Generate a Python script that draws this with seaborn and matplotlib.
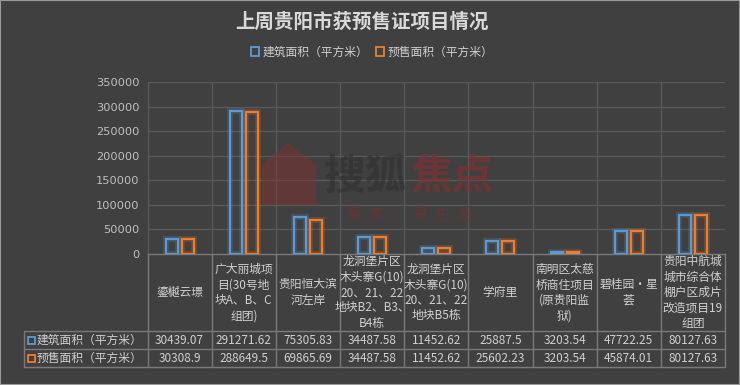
import matplotlib
matplotlib.use("Agg")
import matplotlib.pyplot as plt
import matplotlib.patheffects as pe
from matplotlib.patches import Rectangle, Polygon, Patch
from matplotlib.transforms import blended_transform_factory
import seaborn as sns
import pandas as pd

# ---------------- data ----------------
categories = [
    "鎏樾云璟",
    "广大丽城项\n目(30号地\n块A、B、C\n组团)",
    "贵阳恒大滨\n河左岸",
    "龙洞堡片区\n木头寨G(10)\n20、21、22\n地块B2、B3、\nB4栋",
    "龙洞堡片区\n木头寨G(10)\n20、21、22\n地块B5栋",
    "学府里",
    "南明区太慈\n桥商住项目\n(原贵阳监\n狱)",
    "碧桂园·星\n荟",
    "贵阳中航城\n城市综合体\n棚户区成片\n改造项目19\n组团",
]
build_area = [30439.07, 291271.62, 75305.83, 34487.58, 11452.62, 25887.5, 3203.54, 47722.25, 80127.63]
presale_area = [30308.9, 288649.5, 69865.69, 34487.58, 11452.62, 25602.23, 3203.54, 45874.01, 80127.63]
build_text = ["30439.07", "291271.62", "75305.83", "34487.58", "11452.62", "25887.5", "3203.54", "47722.25", "80127.63"]
presale_text = ["30308.9", "288649.5", "69865.69", "34487.58", "11452.62", "25602.23", "3203.54", "45874.01", "80127.63"]
series_names = ["建筑面积（平方米）", "预售面积（平方米）"]
yticks = [0, 50000, 100000, 150000, 200000, 250000, 300000, 350000]
title = "上周贵阳市获预售证项目情况"

# ---------------- style ----------------
BG = "#404040"
GRID = "#595959"
TABLE_LINE = "#7a7a7a"
TXT = "#d0d0d0"
BLUE = "#5B9BD5"
ORANGE = "#ED7D31"

sns.set_theme(style="dark")
plt.rcParams['font.family'] = ['Noto Sans CJK SC', 'DejaVu Sans']

W, H = 740, 385
fig = plt.figure(figsize=(W / 100, H / 100), dpi=100, facecolor=BG)


def fx(x):
    return x / W


def fy(y):
    return 1 - y / H


L, R, T, B = 147.5, 725, 82, 254
ax = fig.add_axes([fx(L), fy(B), fx(R) - fx(L), fy(T) - fy(B)])
ax.set_facecolor("none")

# watermark (behind bars)
house = Polygon([[fx(262), fy(165)], [fx(288), fy(143)], [fx(316), fy(165)],
                 [fx(316), fy(205)], [fx(262), fy(205)]],
                closed=True, transform=fig.transFigure, facecolor="#8a3030",
                alpha=0.45, edgecolor="none", zorder=0)
fig.patches.append(house)
fig.text(fx(324), fy(177), "搜狐", fontsize=30, color="#2e2e2e", alpha=0.55,
         ha="left", va="center", fontweight="bold", zorder=0)
fig.text(fx(410), fy(177), "焦点", fontsize=30, color="#8a2e2e", alpha=0.6,
         ha="left", va="center", fontweight="bold", zorder=0)
fig.text(fx(410), fy(214), "爱  家  ，  爱  生  活", fontsize=11, color="#7a2e2e",
         alpha=0.7, ha="center", va="center", zorder=0)

df = pd.DataFrame({
    "cat": categories * 2,
    "series": [series_names[0]] * len(categories) + [series_names[1]] * len(categories),
    "value": build_area + presale_area,
})
sns.barplot(data=df, x="cat", y="value", hue="series", palette=[BLUE, ORANGE],
            fill=False, width=0.5, gap=0.25, linewidth=1.5, ax=ax, legend=False,
            errorbar=None)

for p in ax.patches:
    c = p.get_edgecolor()
    p.set_path_effects([pe.Stroke(linewidth=4, foreground=c, alpha=0.25), pe.Normal()])
    p.set_zorder(3)

n = len(categories)
ax.set_xlim(-0.5, n - 0.5)
ax.set_ylim(0, 350000)
ax.set_yticks(yticks)
ax.set_yticklabels([str(v) for v in yticks], color="#bfbfbf", fontsize=8.2,
                   family="DejaVu Sans")
ax.tick_params(axis="y", length=0, pad=6)
ax.set_xticks([])
ax.set_xlabel("")
ax.set_ylabel("")
ax.grid(False)
for v in yticks[1:]:
    ax.axhline(v, color=GRID, lw=1, zorder=1)
for i in range(n - 1):
    ax.axvline(i + 0.5, color=GRID, lw=1, zorder=1)
for s in ["top", "right"]:
    ax.spines[s].set_visible(False)
ax.spines["left"].set_color(GRID)
ax.spines["left"].set_linewidth(1)
ax.spines["bottom"].set_color(TABLE_LINE)
ax.spines["bottom"].set_linewidth(1)

# ---------------- data table ----------------
tr = blended_transform_factory(ax.transData, fig.transFigure)
colw = (R - L) / n
left_edge = -0.5 - (L - 24) / colw
row_y = [331, 349, 366.7]

for i in range(n + 1):
    ax.plot([i - 0.5, i - 0.5], [fy(B), fy(row_y[-1])], color=TABLE_LINE, lw=1,
            transform=tr, clip_on=False)
ax.plot([left_edge, left_edge], [fy(row_y[0]), fy(row_y[-1])], color=TABLE_LINE,
        lw=1, transform=tr, clip_on=False)
for y in row_y:
    ax.plot([left_edge, n - 0.5], [fy(y), fy(y)], color=TABLE_LINE, lw=1,
            transform=tr, clip_on=False)

for i, lab in enumerate(categories):
    ax.text(i, fy(292.5), lab, transform=tr, ha="center", va="center",
            fontsize=8.5, color=TXT, linespacing=1.25, multialignment="center")
    ax.text(i, fy(340), build_text[i], transform=tr, ha="center", va="center",
            fontsize=8.5, color=TXT)
    ax.text(i, fy(358), presale_text[i], transform=tr, ha="center", va="center",
            fontsize=8.5, color=TXT)

for k, (name, col) in enumerate(zip(series_names, [BLUE, ORANGE])):
    yc = 340 if k == 0 else 358
    fig.patches.append(Rectangle((fx(28), fy(yc + 3.5)), fx(7), fy(yc - 3.5) - fy(yc + 3.5),
                                 transform=fig.transFigure, facecolor="none",
                                 edgecolor=col, lw=1.3))
    fig.text(fx(37), fy(yc), name, fontsize=8.5, color=TXT, ha="left", va="center")

# ---------------- title & legend ----------------
fig.text(fx(362), fy(22), title, fontsize=14, fontweight="bold", color="#d9d9d9",
         ha="center", va="center")
handles = [Patch(facecolor="none", edgecolor=BLUE, lw=1.3),
           Patch(facecolor="none", edgecolor=ORANGE, lw=1.3)]
fig.legend(handles, series_names, loc="center", bbox_to_anchor=(fx(372), fy(52)),
           ncol=2, frameon=False, fontsize=8.5, labelcolor=TXT, handlelength=0.7,
           handleheight=0.7, handletextpad=0.3, columnspacing=0.6)

# outer border
fig.patches.append(Rectangle((0, 0), 1, 1, transform=fig.transFigure,
                             facecolor="none", edgecolor="#9a9a9a", lw=1.5))

fig.savefig("out.png", dpi=100, facecolor=BG)
